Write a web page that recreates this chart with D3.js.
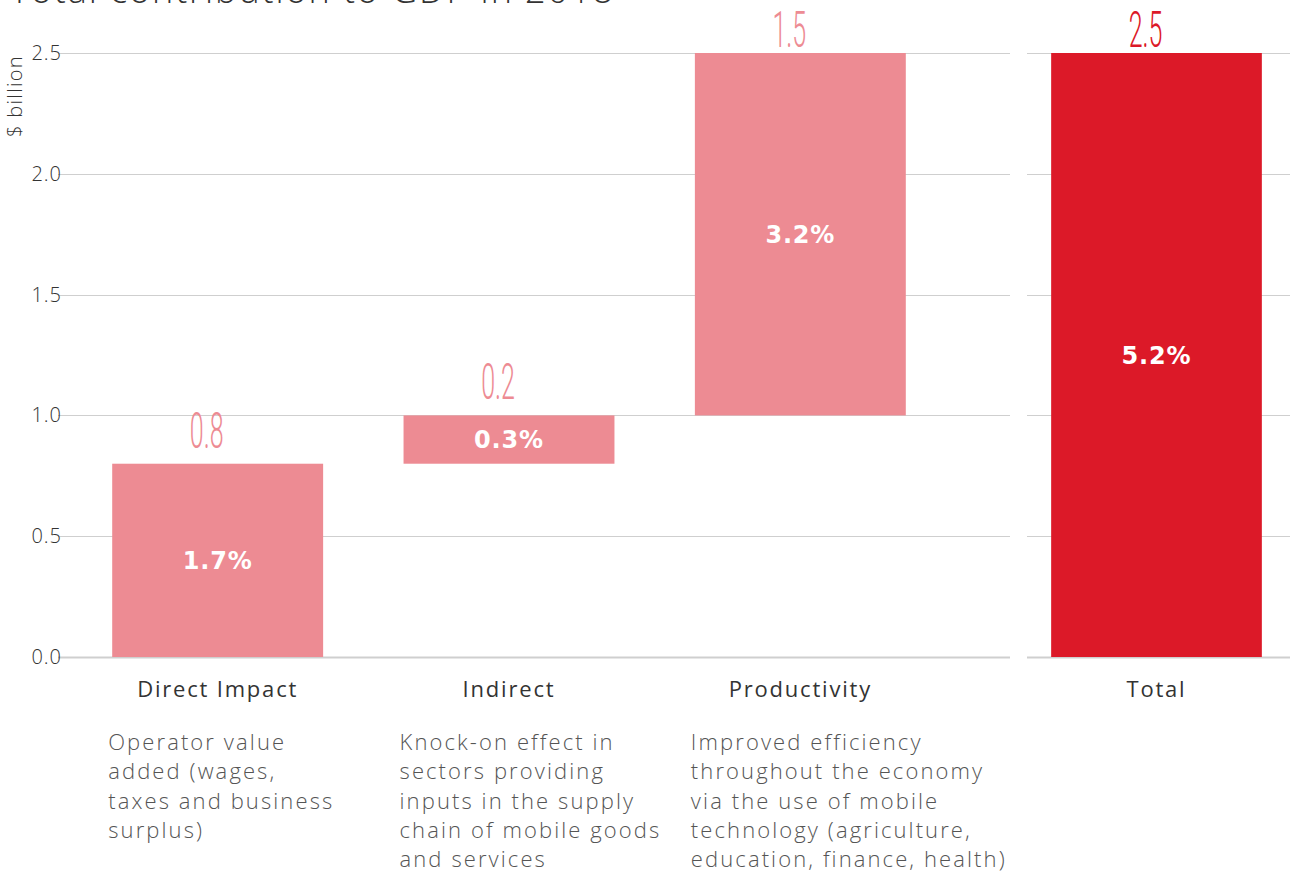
<!DOCTYPE html>
<html>
<head>
<meta charset="utf-8">
<script src="https://cdn.jsdelivr.net/npm/d3@7"></script>
<style>
	body { margin: 0; background: #fff; }
	svg { display: block; }
</style>
</head>
<body>
<svg id="chart" width="1290" height="872"></svg>
<script>
'use strict';

// data
var categories = ['Direct Impact', 'Indirect', 'Productivity'];
var starts = [0, 0.8, 1.0];
var values = [0.8, 0.2, 1.5];
var shares = ['1.7%', '0.3%', '3.2%'];
var descriptions = [
	['Operator value', 'added (wages,', 'taxes and business', 'surplus)'],
	['Knock-on effect in', 'sectors providing', 'inputs in the supply', 'chain of mobile goods', 'and services'],
	['Improved efficiency', 'throughout the economy', 'via the use of mobile', 'technology (agriculture,', 'education, finance, health)']
];
var totalLabel = 'Total';
var totalValue = 2.5;
var totalShare = '5.2%';
var yTicks = [0, 0.5, 1.0, 1.5, 2.0, 2.5];

var light = '#ed8b93', red = '#dc1928';
var font = 'Open Sans, sans-serif';
var svg = d3.select('#chart');

var y = d3.scaleLinear().domain([0, 2.5]).range([657, 53]);
var x = d3.scaleBand().domain(categories).range([72, 946]).paddingInner(0.276).paddingOuter(0.138);
var xt = d3.scaleBand().domain([totalLabel]).range([1011, 1302]).paddingInner(0.276).paddingOuter(0.138);

// title, cut off at the top
svg.append('text')
	.attr('x', 10).attr('y', 3)
	.attr('font-family', font)
	.attr('font-weight', 300)
	.attr('font-size', 36)
	.attr('letter-spacing', 1.9)
	.attr('fill', '#333')
	.text('Total contribution to GDP in 2018');

// grid
function grid(x0, x1) {
	svg.append('g')
		.selectAll('line').data(yTicks).enter()
		.append('line')
			.attr('x1', x0).attr('x2', x1)
			.attr('y1', function(d) { return Math.round(y(d)) + 0.5; })
			.attr('y2', function(d) { return Math.round(y(d)) + 0.5; })
			.attr('stroke', '#cfcfcf')
			.attr('stroke-width', function(d) { return d === 0 ? 2 : 1; });
}
grid(58, 1010);
grid(1027, 1290);

var yAxis = svg.append('g')
	.attr('transform', 'translate(62,0)')
	.call(d3.axisLeft(y).tickValues(yTicks).tickFormat(d3.format('.1f')).tickSize(0).tickPadding(0));
yAxis.select('.domain').remove();
yAxis.selectAll('text')
	.attr('font-family', font)
	.attr('font-weight', 300)
	.attr('font-size', 20)
	.attr('letter-spacing', 1)
	.attr('fill', '#333');

svg.append('text')
	.attr('transform', 'translate(22,96) rotate(-90)')
	.attr('text-anchor', 'middle')
	.attr('font-family', font)
	.attr('font-weight', 300)
	.attr('font-size', 20)
	.attr('letter-spacing', 1.3)
	.attr('fill', '#333')
	.text('$ billion');

// bars
var bars = categories.map(function(c, i) {
	return {name: c, x: x(c), w: x.bandwidth(), lo: starts[i], hi: starts[i] + values[i],
		value: values[i], share: shares[i], color: light, desc: descriptions[i]};
});
bars.push({name: totalLabel, x: xt(totalLabel), w: xt.bandwidth(), lo: 0, hi: totalValue,
	value: totalValue, share: totalShare, color: red, desc: []});

var g = svg.selectAll('g.bar').data(bars).enter().append('g').attr('class', 'bar');

g.append('rect')
	.attr('x', function(d) { return d.x; })
	.attr('y', function(d) { return y(d.hi); })
	.attr('width', function(d) { return d.w; })
	.attr('height', function(d) { return y(d.lo) - y(d.hi); })
	.attr('fill', function(d) { return d.color; });

// condensed value label above each bar, pushed down near the top edge
g.append('text')
	.attr('transform', function(d) {
		var ty = Math.max(y(d.hi) - 16, 47);
		return 'translate(' + (d.x + d.w / 2 - 11) + ',' + ty + ') scale(0.5,1)';
	})
	.attr('text-anchor', 'middle')
	.attr('font-family', 'Roboto, sans-serif')
	.attr('font-weight', 300)
	.attr('font-size', 50)
	.attr('fill', function(d) { return d.color; })
	.text(function(d) { return d3.format('.1f')(d.value); });

g.append('text')
	.attr('x', function(d) { return d.x + d.w / 2; })
	.attr('y', function(d) { return y((d.lo + d.hi) / 2); })
	.attr('dy', '0.36em')
	.attr('text-anchor', 'middle')
	.attr('font-family', 'DejaVu Sans, sans-serif')
	.attr('font-weight', 'bold')
	.attr('font-size', 24)
	.attr('letter-spacing', 0.8)
	.attr('fill', '#fff')
	.text(function(d) { return d.share; });

g.append('text')
	.attr('x', function(d) { return d.x + d.w / 2; })
	.attr('y', 697)
	.attr('text-anchor', 'middle')
	.attr('font-family', font)
	.attr('font-size', 22)
	.attr('letter-spacing', 1.8)
	.attr('fill', '#333')
	.text(function(d) { return d.name; });

g.append('text')
	.attr('font-family', font)
	.attr('font-weight', 300)
	.attr('font-size', 22)
	.attr('letter-spacing', 2.1)
	.attr('fill', '#555')
	.selectAll('tspan')
	.data(function(d) { return d.desc.map(function(t) { return {t: t, x: d.x - 4}; }); })
	.enter().append('tspan')
		.attr('x', function(d) { return d.x; })
		.attr('y', function(d, i) { return 750 + i * 29.3; })
		.text(function(d) { return d.t; });
</script>
</body>
</html>
